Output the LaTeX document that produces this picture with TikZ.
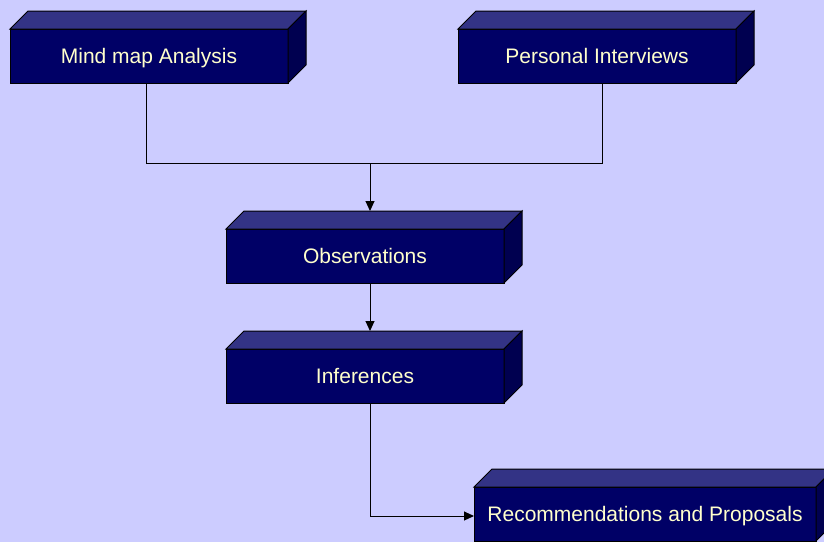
\documentclass[tikz,border=0pt]{standalone}
\usepackage{fontspec}
\setmainfont{Liberation Sans}
\usetikzlibrary{arrows.meta,calc}
\definecolor{bglilac}{HTML}{CCCCFF}
\definecolor{boxfront}{HTML}{000066}
\definecolor{boxtopc}{HTML}{333385}
\definecolor{boxsidec}{HTML}{000050}
\definecolor{cream}{HTML}{FFFFCC}
\tikzset{
    box/.style={draw=black,fill=boxfront,text=cream,minimum width=278pt,minimum height=54pt,
        inner sep=0pt,outer sep=0pt,text height=15pt,text depth=0pt,font=\fontsize{21}{25}\selectfont},
    boxtop/.style={draw=black,fill=boxtopc},
    boxside/.style={draw=black,fill=boxsidec},
    arr/.style={-{Triangle[length=10pt,width=9pt]}}
}
\begin{document}
\begin{tikzpicture}[x=1pt,y=-1pt,line width=1pt]
    \useasboundingbox (0,0) rectangle (824,542);
    \fill[bglilac] (0,0) rectangle (824,542);
    \node[box] (mind) at (149,56) {Mind map Analysis};
    \node[box] (inter) at (597,56) {Personal Interviews};
    \node[box] (obs) at (365,256) {Observations};
    \node[box] (inf) at (365,376) {Inferences};
    \node[box,minimum width=342pt] (rec) at (645,514) {Recommendations and Proposals};
    \foreach \b in {mind,inter,obs,inf,rec}{
    \draw[boxtop] (\b.north west) -- ++(18,-18) -- ($(\b.north east)+(18,-18)$) -- (\b.north east) -- cycle;
    \draw[boxside] (\b.north east) -- ++(18,-18) -- ($(\b.south east)+(18,-18)$) -- (\b.south east) -- cycle;}
    \coordinate (jl) at (146,163);
    \coordinate (jr) at (602,163);
    \coordinate (jm) at (370,163);
    \coordinate (jb) at (370,516);
    \draw (mind.south -| jl) -- (jl) -- (jr) -- (inter.south -| jr);
    \draw[arr] (jm) -- ($(obs.north -| jm)+(0,-18)$);
    \draw[arr] (obs.south -| jm) -- ($(inf.north -| jm)+(0,-18)$);
    \draw[arr] (inf.south -| jm) -- (jb) -- (rec.west |- jb);
\end{tikzpicture}
\end{document}
